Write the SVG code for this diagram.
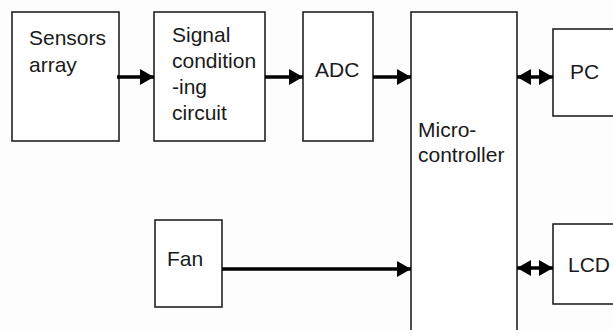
<svg xmlns="http://www.w3.org/2000/svg" width="613" height="330" viewBox="0 0 613 330">
<defs>
<style>
.box{fill:#fff;stroke:#222;stroke-width:1.6}
.lbl{font-family:"Liberation Sans",Arial,sans-serif;font-size:21px;fill:#1a1a1a}
.wire{stroke:#000;stroke-width:3.5;fill:none}
</style>
<marker id="ah" markerUnits="userSpaceOnUse" markerWidth="15" markerHeight="18" refX="14" refY="9" orient="auto">
<path d="M0,1 L14,9 L0,17 Z" fill="#000"/>
</marker>
<marker id="ahs" markerUnits="userSpaceOnUse" markerWidth="15" markerHeight="18" refX="1" refY="9" orient="auto">
<path d="M15,1 L1,9 L15,17 Z" fill="#000"/>
</marker>
</defs>
<rect width="613" height="330" fill="#fdfdfd"/>
<g id="sensors">
<rect class="box" x="12" y="12" width="107" height="129"/>
<text class="lbl" x="29" y="45">Sensors</text>
<text class="lbl" x="29" y="72">array</text>
</g>
<g id="signal">
<rect class="box" x="154" y="12" width="111" height="129"/>
<text class="lbl" x="172" y="42">Signal</text>
<text class="lbl" x="172" y="68">condition</text>
<text class="lbl" x="172" y="94">-ing</text>
<text class="lbl" x="172" y="120">circuit</text>
</g>
<g id="adc">
<rect class="box" x="303" y="12" width="70" height="129"/>
<text class="lbl" x="315" y="77">ADC</text>
</g>
<g id="micro">
<rect class="box" x="411" y="12" width="106" height="330"/>
<text class="lbl" x="418" y="137">Micro-</text>
<text class="lbl" x="418" y="162">controller</text>
</g>
<g id="pc">
<rect class="box" x="553" y="29" width="70" height="87"/>
<text class="lbl" x="570" y="79">PC</text>
</g>
<g id="fan">
<rect class="box" x="155" y="220" width="67" height="87"/>
<text class="lbl" x="167" y="266">Fan</text>
</g>
<g id="lcd">
<rect class="box" x="553" y="224" width="70" height="80"/>
<text class="lbl" x="568" y="272">LCD</text>
</g>
<g id="connectors">
<path class="wire" d="M117,77 H154" marker-end="url(#ah)"/>
<path class="wire" d="M265,77 H303" marker-end="url(#ah)"/>
<path class="wire" d="M373,77 H411" marker-end="url(#ah)"/>
<path class="wire" d="M517,77 H553" marker-start="url(#ahs)" marker-end="url(#ah)"/>
<path class="wire" d="M222,269 H411" marker-end="url(#ah)"/>
<path class="wire" d="M517,268 H553" marker-start="url(#ahs)" marker-end="url(#ah)"/>
</g>
</svg>
